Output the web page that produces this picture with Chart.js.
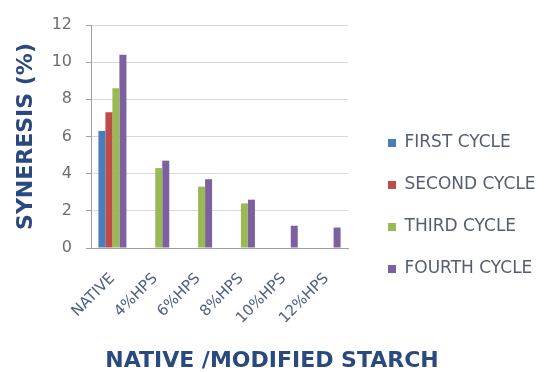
<!DOCTYPE html>
<html>
<head>
<meta charset="utf-8">
<script src="https://cdn.jsdelivr.net/npm/chart.js@4.4.1/dist/chart.umd.min.js"></script>
<style>
  html, body { margin: 0; padding: 0; background: #fff; }
  #wrap { width: 544px; height: 372px; }
</style>
</head>
<body>
<div id="wrap"><canvas id="synChart" width="544" height="372"></canvas></div>
<script>
// categories (native / modified starch)
const categories = ['NATIVE', '4%HPS', '6%HPS', '8%HPS', '10%HPS', '12%HPS'];

// syneresis (%) per freeze-thaw cycle
const firstCycle  = [6.3, 0, 0, 0, 0, 0];
const secondCycle = [7.3, 0, 0, 0, 0, 0];
const thirdCycle  = [8.6, 4.3, 3.3, 2.4, 0, 0];
const fourthCycle = [10.4, 4.7, 3.7, 2.6, 1.2, 1.1];

const seriesNames = ['FIRST CYCLE', 'SECOND CYCLE', 'THIRD CYCLE', 'FOURTH CYCLE'];
const seriesColors = ['#4a7ebb', '#be4b48', '#98b954', '#7d60a0'];

const yTicks = [0, 2, 4, 6, 8, 10, 12];

const titleColor = '#2a4a7f';

Chart.defaults.font.family = '"DejaVu Sans", sans-serif';

const ctx = document.getElementById('synChart').getContext('2d');

const chart = new Chart(ctx, {
    type: 'bar',
    data: {
        labels: categories,
        datasets: [firstCycle, secondCycle, thirdCycle, fourthCycle].map((vals, i) => ({
            label: seriesNames[i],
            data: vals,
            backgroundColor: seriesColors[i],
            borderWidth: 0,
            categoryPercentage: 0.654,
            barPercentage: 1.0
        }))
    },
    options: {
        responsive: false,
        animation: false,
        layout: { padding: { top: 25, left: 0, right: 0, bottom: 0 } },
        plugins: {
            legend: {
                position: 'right',
                align: 'start',
                maxWidth: 181,
                title: {
                    display: true,
                    text: ' ',
                    font: { size: 10, lineHeight: 1 },
                    padding: { top: 74.5, bottom: 0 }
                },
                labels: {
                    boxWidth: 8,
                    boxHeight: 8,
                    padding: 25,
                    color: '#555d70',
                    font: { size: 17 }
                }
            },
            title: {
                display: true,
                position: 'bottom',
                text: 'NATIVE /MODIFIED STARCH',
                color: titleColor,
                font: { size: 22, weight: 'bold', lineHeight: 1 },
                padding: { top: 0, bottom: 0 }
            },
            tooltip: { enabled: false }
        },
        scales: {
            x: {
                grid: { display: false },
                border: { display: true, color: '#a0a0a0' },
                ticks: {
                    autoSkip: false,
                    minRotation: 45,
                    maxRotation: 45,
                    padding: 14,
                    color: '#4f5f82',
                    font: { size: 15 }
                },
                afterFit: (s) => { s.height = 102; }
            },
            y: {
                min: 0,
                max: 12,
                afterBuildTicks: (s) => { s.ticks = yTicks.map(v => ({ value: v })); },
                grid: { color: '#d9d9d9', tickColor: '#a0a0a0', tickLength: 5 },
                border: { display: true, color: '#a0a0a0' },
                ticks: { padding: 14, color: '#6e6e6e', font: { size: 16 } },
                title: {
                    display: true,
                    text: 'SYNERESIS (%)',
                    color: titleColor,
                    font: { size: 22, weight: 'bold' },
                    padding: { top: 13, bottom: 0 }
                },
                afterFit: (s) => { s.width = 91; }
            },
            // spacer between plot and legend
            gap: {
                type: 'linear',
                position: 'right',
                grid: { display: false },
                border: { display: false },
                ticks: { display: false },
                afterFit: (s) => { s.width = 15; }
            }
        }
    }
});
</script>
</body>
</html>
